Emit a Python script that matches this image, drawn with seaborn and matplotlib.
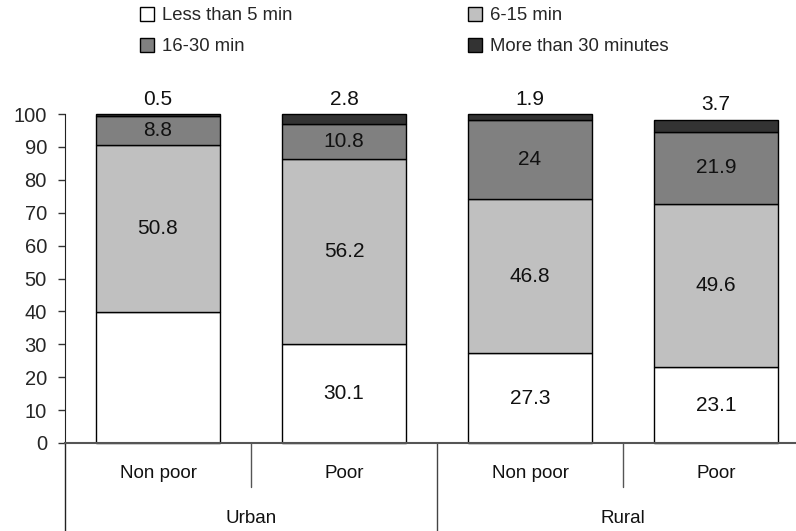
import numpy as np
import pandas as pd
import seaborn as sns
import matplotlib.pyplot as plt
from matplotlib.patches import Patch

groups = ["Urban", "Urban", "Rural", "Rural"]
status = ["Non poor", "Poor", "Non poor", "Poor"]
less5 = [39.9, 30.1, 27.3, 23.1]
min6_15 = [50.8, 56.2, 46.8, 49.6]
min16_30 = [8.8, 10.8, 24.0, 21.9]
more30 = [0.5, 2.8, 1.9, 3.7]
series_names = ["Less than 5 min", "6-15 min", "16-30 min", "More than 30 minutes"]
colors = ["#ffffff", "#c0c0c0", "#808080", "#333333"]
yticks = list(range(0, 101, 10))

sns.set_style("white")
plt.rcParams['font.family'] = ['Liberation Sans', 'DejaVu Sans']

df = pd.DataFrame({
    "key": [g + " " + s for g, s in zip(groups, status)],
    "Less than 5 min": less5,
    "6-15 min": min6_15,
    "16-30 min": min16_30,
    "More than 30 minutes": more30,
})

fig = plt.figure(figsize=(7.96, 5.31), dpi=100)
ax = fig.add_axes([65 / 796, 88 / 531, 1 - 65 / 796, 329 / 531])

bottom = np.zeros(len(df))
containers = []
for name, col in zip(series_names, colors):
    sns.barplot(data=df, x="key", y=name, bottom=bottom, color=col,
                edgecolor="black", linewidth=1, width=0.667, ax=ax,
                saturation=1, clip_on=False)
    containers.append(ax.containers[-1])
    bottom = bottom + df[name].values

# value labels
for i, c in enumerate(containers[:3]):
    labels = []
    for j, v in enumerate(df[series_names[i]]):
        if i == 0 and j == 0:
            labels.append("")
        else:
            labels.append(f"{v:g}")
    ax.bar_label(c, labels=labels, label_type="center", fontsize=15, color="#111111")
for j, (top, v) in enumerate(zip(bottom, more30)):
    ax.text(j, top + 1.6, f"{v:g}", ha="center", va="bottom", fontsize=15, color="#111111")

ax.set_ylim(0, 100)
ax.set_xlim(-0.5, (796 - 65) / 186 - 0.5)
ax.set_yticks(yticks)
ax.tick_params(axis="y", labelsize=14.5, length=5, width=1, color="#333333", left=True, pad=8)
ax.set_xticks([])
ax.set_xlabel("")
ax.set_ylabel("")
sns.despine(ax=ax, top=True, right=True)
ax.spines["left"].set_color("#222222")
ax.spines["bottom"].set_color("#555555")
ax.spines["bottom"].set_linewidth(1.5)

# category separators and labels below the axis
ax.plot([-0.5, -0.5], [0, -30], color="#222222", lw=1, clip_on=False)
ax.plot([1.5, 1.5], [0, -30], color="#444444", lw=1, clip_on=False)
for xs in [0.5, 2.5]:
    ax.plot([xs, xs], [0, -13.4], color="#555555", lw=1, clip_on=False)
for j, s in enumerate(status):
    ax.text(j, -9.3, s, ha="center", va="center", fontsize=13.5, color="#111111")
for xg, g in zip([0.5, 2.5], ["Urban", "Rural"]):
    ax.text(xg, -22.8, g, ha="center", va="center", fontsize=13.5, color="#111111")

handles = [Patch(facecolor=c, edgecolor="black", linewidth=1) for c in colors]
order = [0, 2, 1, 3]
fig.legend([handles[k] for k in order], [series_names[k] for k in order],
           ncol=2, loc="upper left", bbox_to_anchor=(140 / 796, 1 - 7 / 531),
           frameon=False, fontsize=13.3, handlelength=0.75, handleheight=0.75,
           handletextpad=0.45, columnspacing=9.5, labelspacing=0.75,
           borderpad=0, borderaxespad=0)

fig.savefig("out.png", dpi=100)
